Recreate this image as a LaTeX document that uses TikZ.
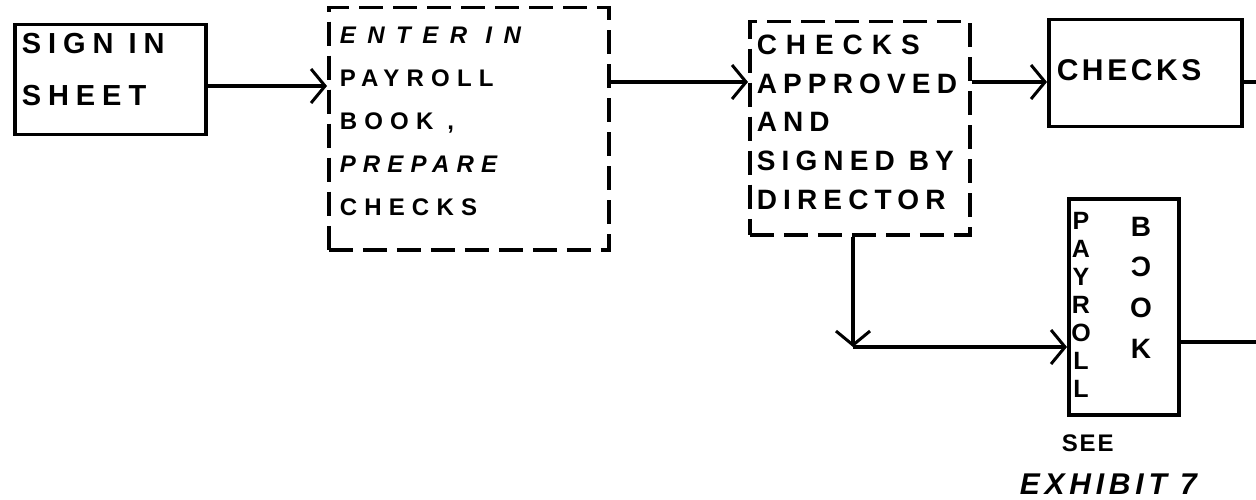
\documentclass[tikz,border=0pt]{standalone}
\usepackage{fontspec}
\setmainfont{Liberation Sans}
\usetikzlibrary{arrows.meta,calc}
\begin{document}
\begin{tikzpicture}[x=1pt,y=-1pt,
  line width=3.5pt,
  box/.style={draw, inner sep=0pt, anchor=north west},
  dbox/.style={box, dash pattern=on 24pt off 10pt},
  arr/.style={-{Straight Barb[length=14pt,width=34pt,line width=3pt]}},
  lbl/.style={inner sep=0pt, anchor=north west, align=left},
]
\useasboundingbox (0,0) rectangle (1256,500);
% boxes
\node[box, minimum width=191pt, minimum height=110pt] (b1) at (13,23) {};
\node[dbox, minimum width=280pt, minimum height=242pt] (b2) at (327,6) {};
\node[dbox, minimum width=220pt, minimum height=213pt] (b3) at (748,20) {};
\node[box, minimum width=193pt, minimum height=107pt] (b4) at (1047,18) {};
\node[box, minimum width=110pt, minimum height=216pt] (b5) at (1067,197) {};
% texts
\node[lbl, font=\bfseries\fontsize{29}{52}\selectfont\addfontfeatures{LetterSpace=24}] (t1) at (20,32) {SIGN IN\\SHEET};
\node[lbl, font=\bfseries\fontsize{24}{43}\selectfont\addfontfeatures{LetterSpace=30}] (t2) at (338,25)
  {{\itshape\addfontfeatures{LetterSpace=48}ENTER IN}\\PAYROLL\\BOOK\hspace{14pt},\\{\itshape PREPARE}\\CHECKS};
\node[lbl, font=\bfseries\fontsize{28}{38.7}\selectfont\addfontfeatures{LetterSpace=22}] (t3) at (755,33)
  {{\addfontfeatures{LetterSpace=32}CHECKS}\\APPROVED\\AND\\SIGNED BY\\DIRECTOR};
\node[lbl, font=\bfseries\fontsize{30}{36}\selectfont\addfontfeatures{LetterSpace=12}] (t4) at (1055,58) {CHECKS};
\node[inner sep=0pt, anchor=north, align=center, font=\bfseries\fontsize{25}{28}\selectfont] (t5) at (1081,211)
  {P\\A\\Y\\R\\O\\L\\L};
\node[inner sep=0pt, anchor=north, align=center, font=\bfseries\fontsize{28}{40.7}\selectfont] (t6) at (1141,215)
  {B\\\reflectbox{C}\\O\\K};
\node[lbl, font=\bfseries\fontsize{24}{28}\selectfont\addfontfeatures{LetterSpace=8}] (t7) at (1060,433) {SEE};
\node[lbl, font=\bfseries\itshape\fontsize{30}{34}\selectfont\addfontfeatures{LetterSpace=16}] (t8) at (1018,472) {EXHIBIT 7};
% helper coordinates
\coordinate (row0) at (0,86);
\coordinate (row1) at (0,82);
\coordinate (out1) at (1256,82);
\coordinate (bend) at (853,347);
\coordinate (out2) at (1256,342);
% connectors
\draw[arr] (b1.east |- row0) -- (b2.west |- row0);
\draw[arr] (b2.east |- row1) -- (b3.west |- row1);
\draw[arr] (b3.east |- row1) -- (b4.west |- row1);
\draw (b4.east |- out1) -- (out1);
\draw[arr] (b3.south -| bend) -- (bend);
\draw[arr] (bend) -- (bend -| b5.west);
\draw (b5.east |- out2) -- (out2);
\end{tikzpicture}
\end{document}
